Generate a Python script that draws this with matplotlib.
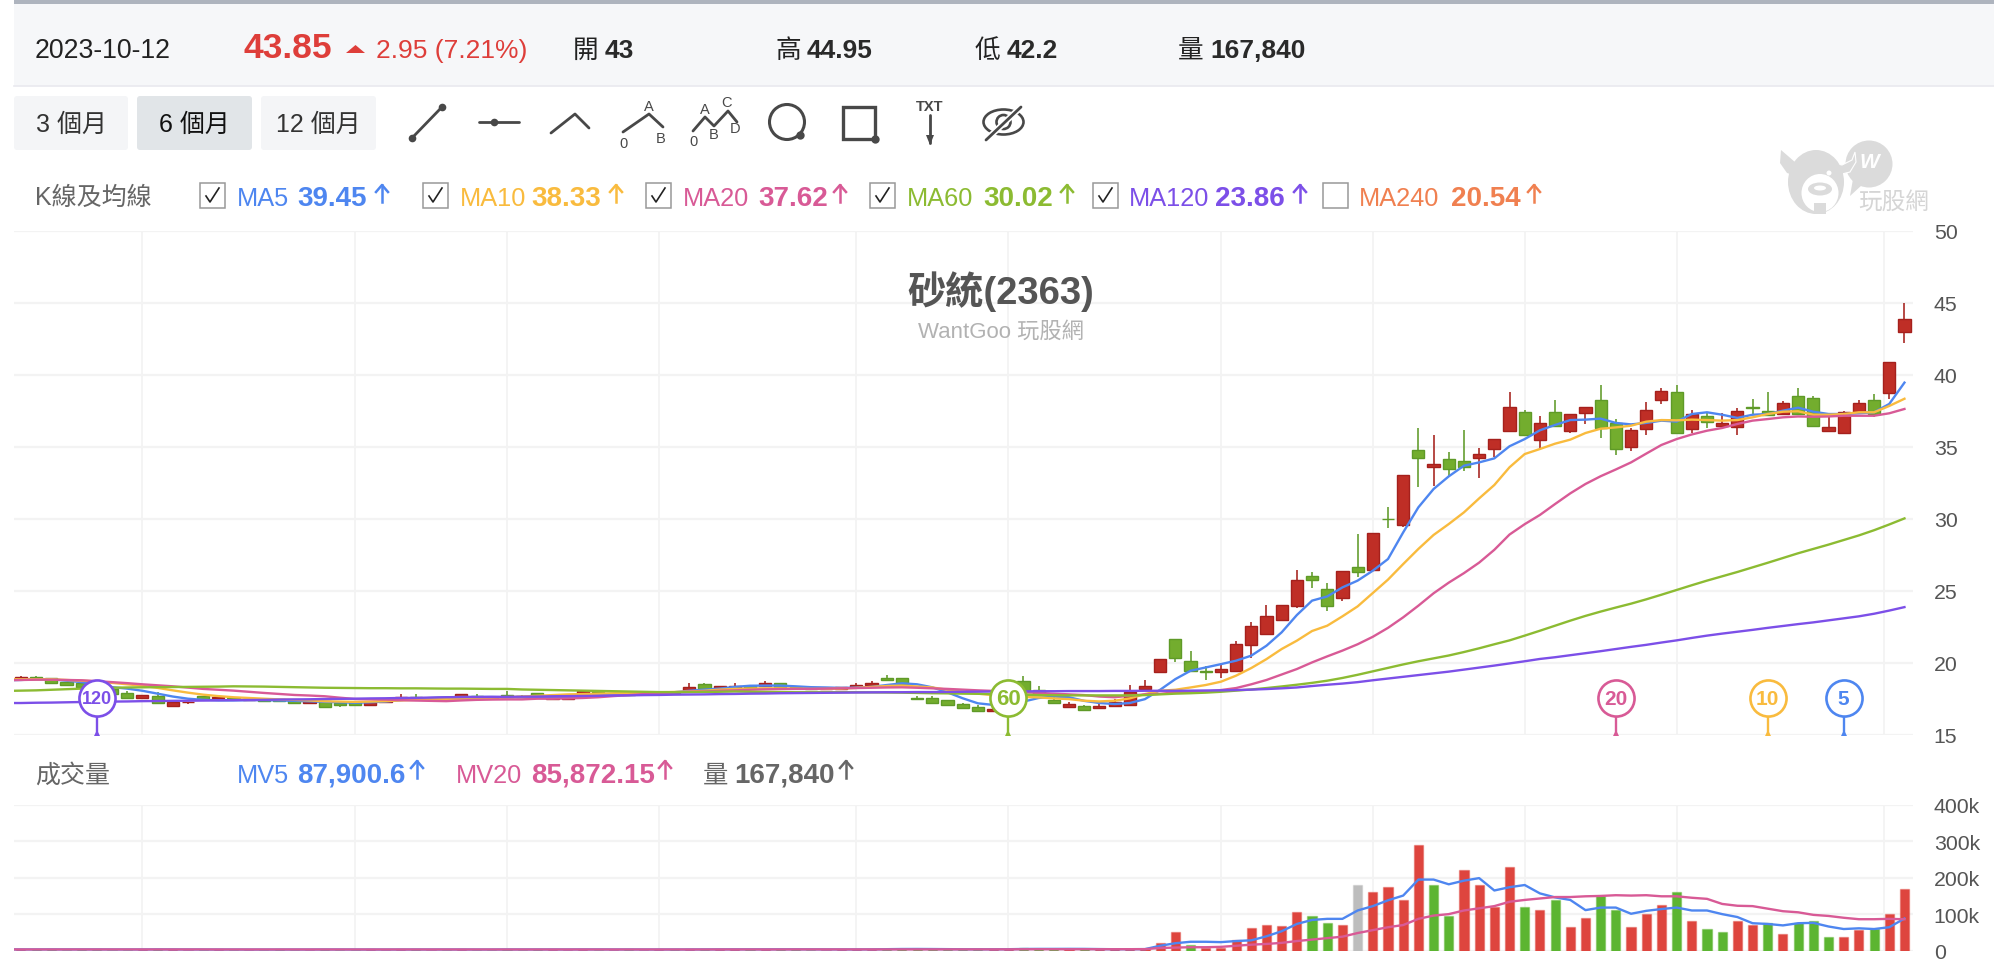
import numpy as np
import matplotlib
matplotlib.use('Agg')
import matplotlib.pyplot as plt
from matplotlib.patches import Rectangle, FancyBboxPatch, Ellipse, Circle, Polygon

plt.rcParams['font.family'] = ['Liberation Sans', 'Noto Sans CJK TC', 'DejaVu Sans']

# daily candles, oldest first
candle_open = [
    18.87, 19.03, 18.92, 18.64, 18.59, 18.45, 18.18, 17.9, 17.57, 17.71,
    16.97, 17.25, 17.67, 17.53, 17.55, 17.42, 17.48, 17.46, 17.44, 17.2,
    17.32, 17.18, 17.25, 17.09, 17.25, 17.48, 17.6, 17.5, 17.58, 17.64,
    17.71, 17.65, 17.76, 17.7, 17.9, 17.5, 17.48, 17.88, 17.99, 17.75,
    17.85, 17.8, 17.9, 17.98, 18.11, 18.55, 18.13, 18.22, 18.41, 18.41,
    18.57, 18.3, 18.25, 18.15, 18.2, 18.32, 18.45, 18.92, 18.92, 17.53,
    17.57, 17.41, 17.16, 16.9, 16.67, 16.8, 18.76, 18.12, 17.4, 16.94,
    17.01, 16.83, 16.96, 17.08, 18.17, 19.33, 21.64, 20.14, 19.42, 19.33,
    19.44, 21.22, 21.97, 22.96, 23.91, 26.04, 25.12, 24.47, 26.67, 26.46,
    30.0, 29.56, 34.79, 33.57, 34.14, 34.0, 34.22, 34.84, 36.09, 37.41,
    35.46, 37.41, 36.09, 37.34, 38.27, 36.67, 34.98, 36.23, 38.22, 38.77,
    36.23, 37.15, 36.46, 36.34, 37.76, 37.5, 37.27, 38.54, 38.38, 36.09,
    35.95, 37.43, 38.27, 38.71, 43.0,
]
candle_high = [
    19.05, 19.08, 18.95, 18.66, 18.62, 18.5, 18.3, 18.04, 17.76, 17.94,
    17.3, 17.3, 17.7, 17.64, 17.6, 17.52, 17.5, 17.5, 17.46, 17.43,
    17.34, 17.2, 17.27, 17.25, 17.35, 17.83, 17.83, 17.6, 17.62, 17.82,
    17.8, 17.7, 18.06, 17.75, 17.92, 17.62, 17.66, 18.13, 18.02, 17.9,
    17.9, 17.95, 18.0, 18.05, 18.57, 18.58, 18.41, 18.57, 18.44, 18.71,
    18.6, 18.38, 18.3, 18.3, 18.32, 18.59, 18.71, 19.17, 18.94, 17.67,
    17.67, 17.43, 17.18, 17.09, 16.82, 17.6, 19.06, 18.4, 17.6, 17.29,
    17.03, 17.2, 17.47, 18.45, 18.79, 20.25, 21.66, 20.78, 19.79, 19.97,
    21.52, 22.8, 24.03, 24.03, 26.44, 26.28, 25.53, 26.39, 28.94, 29.03,
    30.79, 33.03, 36.28, 35.79, 34.66, 36.16, 34.91, 35.53, 38.77, 37.52,
    37.16, 38.27, 37.27, 37.78, 39.28, 36.9, 36.3, 38.08, 39.05, 39.28,
    37.55, 37.34, 37.32, 37.66, 38.31, 38.77, 38.15, 39.05, 38.54, 37.04,
    37.5, 38.27, 38.68, 40.9, 44.95,
]
candle_low = [
    18.85, 18.87, 18.59, 18.45, 18.34, 18.15, 17.83, 17.57, 17.57, 17.2,
    16.97, 17.16, 17.48, 17.53, 17.42, 17.4, 17.32, 17.34, 17.2, 17.2,
    16.95, 16.93, 17.09, 17.09, 17.2, 17.48, 17.5, 17.45, 17.5, 17.64,
    17.64, 17.55, 17.64, 17.6, 17.76, 17.48, 17.45, 17.88, 17.88, 17.7,
    17.72, 17.75, 17.85, 17.9, 18.11, 18.15, 18.13, 18.22, 18.22, 18.41,
    18.29, 18.2, 18.12, 18.1, 18.15, 18.32, 18.45, 18.82, 18.52, 17.46,
    17.2, 17.07, 16.83, 16.67, 16.65, 16.75, 17.95, 17.75, 17.2, 16.94,
    16.73, 16.83, 16.96, 17.08, 18.17, 19.33, 20.07, 19.44, 18.82, 18.93,
    19.44, 20.3, 21.97, 22.96, 23.8, 25.19, 23.56, 24.31, 25.93, 26.46,
    29.33, 29.45, 32.18, 32.29, 32.99, 33.33, 32.8, 34.26, 36.09, 35.84,
    34.89, 36.46, 35.93, 36.58, 35.58, 34.45, 34.68, 35.81, 37.94, 35.95,
    35.95, 36.3, 36.46, 35.81, 37.2, 37.2, 37.27, 37.27, 36.46, 36.09,
    35.95, 37.43, 37.04, 38.31, 42.2,
]
candle_close = [
    19.03, 18.87, 18.59, 18.45, 18.34, 18.15, 17.83, 17.57, 17.76, 17.2,
    17.3, 17.3, 17.48, 17.64, 17.45, 17.5, 17.32, 17.34, 17.2, 17.37,
    16.95, 17.09, 17.09, 17.25, 17.32, 17.6, 17.5, 17.55, 17.52, 17.8,
    17.64, 17.58, 17.64, 17.6, 17.76, 17.6, 17.64, 18.04, 17.88, 17.85,
    17.75, 17.9, 17.95, 17.92, 18.29, 18.15, 18.41, 18.41, 18.22, 18.59,
    18.29, 18.22, 18.15, 18.25, 18.28, 18.45, 18.59, 18.82, 18.52, 17.46,
    17.2, 17.07, 16.83, 16.67, 16.79, 17.5, 17.95, 17.75, 17.2, 17.15,
    16.73, 17.01, 17.24, 17.98, 18.4, 20.25, 20.32, 19.44, 19.37, 19.56,
    21.27, 22.52, 23.27, 24.03, 25.77, 25.72, 23.96, 26.39, 26.32, 29.03,
    29.95, 33.03, 34.22, 33.78, 33.45, 33.57, 34.52, 35.53, 37.78, 35.84,
    36.67, 36.46, 37.27, 37.78, 36.32, 34.84, 36.16, 37.53, 38.89, 35.95,
    37.27, 36.74, 36.65, 37.5, 37.72, 37.2, 38.03, 37.27, 36.46, 36.39,
    37.39, 38.03, 37.27, 40.9, 43.85,
]

# moving averages start one session before the first visible candle
ma5 = [
    18.78,
    18.8, 18.85, 18.85, 18.75, 18.65, 18.5, 18.3, 18.2, 18.05, 17.85,
    17.65, 17.5, 17.42, 17.38, 17.38, 17.4, 17.4, 17.38, 17.35, 17.32,
    17.28, 17.25, 17.22, 17.25, 17.3, 17.4, 17.5, 17.55, 17.6, 17.62,
    17.62, 17.62, 17.6, 17.6, 17.55, 17.55, 17.6, 17.75, 17.75, 17.8,
    17.8, 17.85, 17.9, 17.95, 18.05, 18.13, 18.2, 18.32, 18.4, 18.41,
    18.41, 18.36, 18.3, 18.28, 18.25, 18.27, 18.32, 18.45, 18.57, 18.5,
    18.29, 17.94, 17.53, 17.18, 17.07, 17.0, 17.3, 17.55, 17.65, 17.6,
    17.35, 17.2, 17.13, 17.2, 17.47, 18.12, 18.86, 19.44, 19.67, 19.9,
    20.14, 20.49, 21.18, 22.11, 23.31, 24.31, 24.6, 25.23, 25.7, 26.39,
    27.2, 29.05, 30.79, 32.06, 32.94, 33.68, 33.91, 34.19, 35.03, 35.53,
    36.14, 36.51, 36.85, 36.88, 36.95, 36.65, 36.55, 36.65, 36.81, 36.74,
    37.27, 37.39, 37.22, 37.0, 37.22, 37.27, 37.5, 37.71, 37.43, 37.27,
    37.27, 37.32, 37.39, 37.97, 39.45,
]
ma10 = [
    18.85,
    18.85, 18.85, 18.85, 18.8, 18.75, 18.7, 18.6, 18.5, 18.4, 18.25,
    18.08, 17.92, 17.78, 17.68, 17.6, 17.55, 17.5, 17.45, 17.42, 17.38,
    17.32, 17.3, 17.28, 17.3, 17.33, 17.38, 17.42, 17.45, 17.48, 17.5,
    17.53, 17.56, 17.6, 17.65, 17.7, 17.75, 17.8, 17.82, 17.85, 17.88,
    17.9, 17.92, 17.95, 17.97, 18.0, 18.05, 18.13, 18.18, 18.2, 18.22,
    18.22, 18.2, 18.18, 18.18, 18.2, 18.25, 18.32, 18.38, 18.41, 18.35,
    18.28, 18.12, 17.98, 17.85, 17.75, 17.68, 17.62, 17.59, 17.52, 17.47,
    17.36, 17.31, 17.36, 17.52, 17.82, 18.05, 18.12, 18.28, 18.45, 18.68,
    19.1, 19.63, 20.25, 20.95, 21.53, 22.2, 22.57, 23.22, 23.91, 24.84,
    25.77, 26.85, 27.9, 28.87, 29.63, 30.44, 31.41, 32.34, 33.57, 34.49,
    34.84, 35.21, 35.49, 35.95, 36.25, 36.34, 36.46, 36.74, 36.85, 36.83,
    36.88, 36.85, 36.81, 36.85, 37.04, 37.27, 37.43, 37.46, 37.22, 37.22,
    37.27, 37.39, 37.39, 37.83, 38.33,
]
ma20 = [
    18.78,
    18.8, 18.82, 18.82, 18.8, 18.78, 18.72, 18.65, 18.58, 18.5, 18.43,
    18.36, 18.27, 18.18, 18.12, 18.06, 17.98, 17.9, 17.83, 17.76, 17.72,
    17.67, 17.57, 17.48, 17.46, 17.44, 17.4, 17.37, 17.35, 17.33, 17.38,
    17.42, 17.44, 17.45, 17.45, 17.5, 17.5, 17.52, 17.55, 17.6, 17.68,
    17.75, 17.82, 17.88, 17.93, 17.98, 18.0, 18.05, 18.08, 18.12, 18.15,
    18.17, 18.18, 18.18, 18.2, 18.22, 18.24, 18.26, 18.28, 18.29, 18.26,
    18.22, 18.18, 18.13, 18.08, 18.04, 18.0, 17.95, 17.9, 17.85, 17.8,
    17.75, 17.65, 17.6, 17.71, 17.8, 17.84, 17.94, 17.98, 18.0, 18.1,
    18.24, 18.5, 18.8, 19.18, 19.56, 20.02, 20.44, 20.84, 21.28, 21.8,
    22.42, 23.15, 23.96, 24.82, 25.56, 26.22, 26.95, 27.84, 28.9, 29.62,
    30.26, 31.02, 31.76, 32.41, 32.95, 33.42, 33.91, 34.52, 35.12, 35.53,
    35.85, 36.11, 36.3, 36.58, 36.81, 36.92, 37.04, 37.1, 37.08, 37.1,
    37.15, 37.15, 37.15, 37.32, 37.62,
]
ma60 = [
    18.04,
    18.06, 18.08, 18.12, 18.16, 18.2, 18.24, 18.26, 18.28, 18.29, 18.3,
    18.31, 18.32, 18.33, 18.34, 18.36, 18.35, 18.34, 18.32, 18.3, 18.28,
    18.26, 18.25, 18.24, 18.23, 18.23, 18.22, 18.22, 18.21, 18.2, 18.2,
    18.19, 18.18, 18.18, 18.14, 18.12, 18.1, 18.08, 18.06, 18.04, 18.02,
    18.0, 17.98, 17.96, 17.95, 17.95, 17.97, 17.98, 18.0, 17.98, 17.97,
    17.96, 17.95, 17.95, 17.95, 17.95, 17.95, 17.94, 17.93, 17.92, 17.9,
    17.88, 17.87, 17.85, 17.84, 17.82, 17.8, 17.78, 17.75, 17.74, 17.73,
    17.73, 17.73, 17.73, 17.73, 17.75, 17.8, 17.85, 17.88, 17.92, 17.98,
    18.06, 18.14, 18.24, 18.35, 18.47, 18.6, 18.75, 18.94, 19.16, 19.4,
    19.64, 19.88, 20.1, 20.3, 20.5, 20.74, 21.0, 21.28, 21.55, 21.88,
    22.22, 22.57, 22.92, 23.25, 23.55, 23.83, 24.1, 24.4, 24.72, 25.05,
    25.38, 25.7, 26.0, 26.3, 26.62, 26.94, 27.27, 27.6, 27.9, 28.2,
    28.52, 28.84, 29.2, 29.6, 30.02,
]
ma120 = [
    17.2,
    17.2, 17.22, 17.23, 17.25, 17.27, 17.28, 17.3, 17.31, 17.33, 17.34,
    17.35, 17.36, 17.37, 17.39, 17.4, 17.41, 17.42, 17.44, 17.45, 17.46,
    17.48, 17.49, 17.5, 17.52, 17.53, 17.55, 17.56, 17.58, 17.6, 17.61,
    17.62, 17.63, 17.63, 17.64, 17.65, 17.67, 17.68, 17.69, 17.7, 17.72,
    17.73, 17.75, 17.76, 17.78, 17.79, 17.8, 17.82, 17.83, 17.85, 17.86,
    17.88, 17.89, 17.9, 17.91, 17.92, 17.93, 17.94, 17.95, 17.95, 17.96,
    17.96, 17.97, 17.98, 17.99, 18.0, 18.01, 18.01, 18.02, 18.02, 18.03,
    18.03, 18.03, 18.04, 18.04, 18.05, 18.05, 18.05, 18.06, 18.07, 18.08,
    18.1, 18.13, 18.17, 18.22, 18.28, 18.38, 18.47, 18.55, 18.65, 18.78,
    18.9, 19.02, 19.14, 19.26, 19.38, 19.52, 19.66, 19.8, 19.95, 20.1,
    20.26, 20.38, 20.52, 20.66, 20.8, 20.95, 21.1, 21.24, 21.4, 21.55,
    21.72, 21.88, 22.02, 22.15, 22.28, 22.42, 22.55, 22.68, 22.8, 22.94,
    23.08, 23.22, 23.4, 23.62, 23.86,
]

volume = [
    3100, 2800, 3400, 2600, 2900, 3300, 2500, 2700, 3000, 3600,
    2800, 2400, 2600, 2900, 2500, 2300, 2700, 3100, 2600, 2400,
    3200, 2700, 2500, 2800, 2600, 3000, 3300, 2500, 2400, 2900,
    2600, 2700, 3500, 2600, 3000, 2800, 2500, 3400, 2700, 2500,
    2900, 2600, 2800, 3100, 3600, 3300, 2900, 3200, 2800, 3400,
    3600, 2900, 2700, 2500, 2800, 3200, 3800, 4600, 4100, 2900,
    3100, 3300, 3000, 3400, 3100, 4800, 7200, 5200, 3300, 2900,
    3100, 2800, 3200, 4500, 5000, 20000, 50000, 16000, 8000, 8000,
    30000, 61000, 71000, 66000, 105000, 95000, 76000, 71000, 180000, 160000,
    175000, 140000, 289000, 180000, 95000, 220000, 180000, 120000, 229000, 120000,
    110000, 140000, 65000, 90000, 149000, 110000, 65000, 100000, 125000, 160000,
    80000, 60000, 50000, 80000, 71000, 76000, 45000, 76000, 80000, 36000,
    36000, 55000, 60000, 100000, 167840,
]
# r: close up, g: close down, n: unchanged
volume_dir = ('rgggggggrg' 'rrgrgrgggr' 'gggrrrgrgr' 'gggggrrrgr' 'grrgrgrrgr'
              'gggrrrrggg' 'ggggrrgggr' 'grrrrrrgrr' 'rrrrrggrnr' 'rrrggrrrrg'
              'rgrrggrrrg' 'rggrrgrggg' 'rrgrr')
mv5 = [
    3000,
    3000, 3000, 3100, 3000, 3000, 3000, 2900, 2900, 2900, 3100,
    3000, 2900, 2800, 2700, 2700, 2600, 2600, 2600, 2700, 2700,
    2800, 2800, 2700, 2700, 2700, 2700, 2800, 2800, 2800, 2800,
    2700, 2700, 2900, 2900, 2900, 2900, 2900, 3000, 3000, 2900,
    2900, 2800, 2800, 2800, 2900, 3000, 3100, 3200, 3200, 3200,
    3300, 3300, 3200, 3100, 3000, 3000, 3100, 3600, 4100, 4200,
    4000, 3700, 3400, 3300, 3300, 3500, 4200, 4400, 4400, 4500,
    4400, 3900, 3500, 3600, 3800, 13000, 20000, 24000, 24000, 23000,
    26000, 28000, 39000, 53000, 73000, 84000, 87000, 87000, 110000, 122000,
    138000, 151000, 195000, 195000, 182000, 192000, 199000, 165000, 174000, 180000,
    157000, 146000, 139000, 111000, 118000, 118000, 101000, 109000, 114000, 118000,
    110000, 110000, 100000, 92000, 75000, 73000, 69000, 75000, 76000, 66000,
    59000, 61000, 59000, 64000, 87900,
]
mv20 = [
    2900,
    2900, 2900, 2900, 2900, 2900, 2900, 2900, 2900, 2900, 2900,
    2900, 2900, 2900, 2800, 2800, 2800, 2800, 2800, 2800, 2800,
    2800, 2800, 2800, 2800, 2800, 2800, 2800, 2800, 2800, 2800,
    2800, 2800, 2800, 2800, 2800, 2800, 2800, 2800, 2800, 2800,
    2800, 2800, 2800, 2800, 2800, 2800, 2900, 2900, 2900, 2900,
    2900, 3000, 3000, 3000, 3000, 3000, 3000, 3000, 3100, 3100,
    3100, 3100, 3100, 3100, 3100, 3200, 3400, 3500, 3500, 3500,
    3500, 3500, 3500, 3600, 3700, 7000, 8000, 9000, 9000, 10000,
    13000, 16000, 18000, 21000, 26000, 30000, 34000, 38000, 48000, 56000,
    64000, 70000, 87000, 96000, 100000, 110000, 116000, 122000, 134000, 139000,
    143000, 147000, 147000, 149000, 150000, 152000, 151000, 152000, 149000, 149000,
    145000, 142000, 128000, 123000, 122000, 115000, 108000, 105000, 98000, 95000,
    90000, 86000, 86000, 87000, 85872,
]

price_ticks = [15, 20, 25, 30, 35, 40, 45, 50]
volume_ticks = [0, 100000, 200000, 300000, 400000]
volume_tick_labels = ['0', '100k', '200k', '300k', '400k']
month_grid = [8, 22, 32, 42, 55, 65, 79, 89, 99, 109, 122.65]

# value flags on the bottom of the price panel: period, session, colour, label size
flag_period = ['120', '60', '20', '10', '5']
flag_session = [5, 65, 105, 115, 120]

COL_MA5 = '#4E86F0'
COL_MA10 = '#F9BB3E'
COL_MA20 = '#D85A96'
COL_MA60 = '#8CBB32'
COL_MA120 = '#7C4FE8'
COL_MA240 = '#F08050'
COL_UP = '#DE3E3A'
flag_colors = [COL_MA120, COL_MA60, COL_MA20, COL_MA10, COL_MA5]
flag_sizes = [13, 16, 15, 15, 15]

W, H = 1994, 962
fig = plt.figure(figsize=(W / 100, H / 100), dpi=100, facecolor='white')


def px_axes(x0, y0, x1, y1):
    return fig.add_axes([x0 / W, 1 - y1 / H, (x1 - x0) / W, (y1 - y0) / H])


# toolbar and legends live in one pixel-space layer
ui = fig.add_axes([0, 0, 1, 1], zorder=0)
ui.set_xlim(0, W)
ui.set_ylim(H, 0)
ui.axis('off')

ui.add_patch(Rectangle((14, 0), W - 14, 5, fc='#AEB4BE', lw=0))
ui.add_patch(Rectangle((14, 5), W - 14, 82, fc='#F6F7F9', lw=0))
ui.plot([14, W], [87, 87], color='#E9E9EF', lw=1.2)


def label(x, y, s, size=19, color='#333333', weight='normal', ha='left'):
    ui.text(x, y + 2, s, fontsize=size, color=color, fontweight=weight, ha=ha, va='center')


label(35, 49, '2023-10-12', 19.2, '#222222')
label(243, 47, '43.85', 25.5, COL_UP, 'bold')
ui.add_patch(Polygon([[346, 54], [365, 54], [355.5, 46]], fc=COL_UP, lw=0))
label(376, 49, '2.95 (7.21%)', 19, COL_UP)
for x_lab, x_val, head, val in [(573, 605, '開', '43'), (775, 807, '高', '44.95'),
                                (975, 1007, '低', '42.2'), (1178, 1210, '量', '167,840')]:
    label(x_lab, 49, head, 18.5, '#222222')
    label(x_val, 49, val, 19, '#2A2A2A', 'bold')

# range buttons
for x0, x1, txt, bg, fg in [(14, 128, '3 個月', '#F4F5F7', '#333333'),
                            (137, 252, '6 個月', '#E1E5E8', '#111111'),
                            (261, 376, '12 個月', '#F4F5F7', '#333333')]:
    ui.add_patch(FancyBboxPatch((x0 + 3, 100), x1 - x0 - 6, 48, boxstyle='round,pad=3',
                                fc=bg, lw=0))
    label((x0 + x1) / 2, 123, txt, 18, fg, ha='center')

# drawing tools
ink = '#484848'
tool_lw = 2.0


def tool(xs, ys, dots=()):
    ui.plot(xs, ys, color=ink, lw=tool_lw, solid_capstyle='round')
    for dx, dy in dots:
        ui.plot(dx, dy, 'o', color=ink, ms=5.5, mew=0)


tool([412, 442], [139, 108], [(412, 139), (442, 108)])
tool([479, 519], [123, 123], [(494, 123)])
tool([551, 575, 589], [134, 115, 129])
tool([623, 649, 663], [133, 115, 128])
tool([693, 705, 714, 728, 737], [132, 118, 127, 112, 123])
for x, y, s in [(649, 107, 'A'), (623, 144, '0'), (661, 139, 'B'), (705, 110, 'A'),
                (726, 103, 'C'), (693, 142, '0'), (714, 135, 'B'), (735, 129, 'D')]:
    ui.text(x, y, s, fontsize=10.5, color=ink, ha='center', va='center')
ui.add_patch(Circle((787, 123), 17.5, fc='none', ec=ink, lw=2.2))
ui.plot(800, 136, 'o', color=ink, ms=6, mew=0)
ui.add_patch(Rectangle((843, 108), 32, 32, fc='none', ec=ink, lw=2.4))
ui.plot(875, 140, 'o', color=ink, ms=6, mew=0)
ui.text(930, 107, 'TXT', fontsize=10.5, color=ink, fontweight='bold', ha='center', va='center')
tool([930, 930], [116, 144])
ui.add_patch(Polygon([[926, 136], [934, 136], [930, 146]], fc=ink, lw=0))
# hidden-lines eye
ui.add_patch(Ellipse((1003.5, 123), 40, 25, fc='none', ec=ink, lw=1.9))
ui.add_patch(Circle((1003.5, 123), 7, fc='none', ec=ink, lw=1.9))
ui.plot([986, 1021], [141, 108], color='white', lw=4.5, zorder=3)
ui.plot([986, 1021], [141, 108], color=ink, lw=2.0, zorder=4, solid_capstyle='round')

# watermark logo
wm = '#DBDBDB'
ui.add_patch(Circle((1869, 165), 23.5, fc=wm, lw=0, zorder=1))
ui.add_patch(Polygon([[1853, 180], [1862, 186], [1850, 197]], fc=wm, lw=0, zorder=1))
ui.text(1869, 163, 'W', fontsize=15, color='white', fontweight='bold', style='italic',
        ha='center', va='center', zorder=2)
ui.add_patch(Polygon([[1781, 151], [1788, 157], [1796, 164], [1806, 163], [1800, 178],
                      [1787, 174], [1780, 164]], fc=wm, lw=0, zorder=2))
ui.add_patch(Polygon([[1855, 153], [1852, 161], [1842, 166], [1832, 164], [1838, 176],
                      [1850, 173], [1856, 163]], fc=wm, ec='white', lw=0.8, zorder=2))
ui.add_patch(Ellipse((1816, 183), 56, 64, fc=wm, lw=0, zorder=3))
ui.add_patch(Ellipse((1820, 194), 37, 38, fc='white', lw=0, zorder=4))
ui.add_patch(Ellipse((1820, 190), 24, 13, fc=wm, lw=0, zorder=5))
ui.add_patch(Ellipse((1820, 189), 12, 5, fc='white', lw=0, zorder=6))
ui.add_patch(Rectangle((1814, 204), 12, 11, fc=wm, lw=0, zorder=5))
ui.add_patch(Circle((1829, 174), 2.5, fc='white', lw=0, zorder=5))
ui.text(1893.5, 203, '玩股網', fontsize=17, color='#D5D5D5', ha='center', va='center', zorder=2)


def up_arrow(x, y0, y1, color):
    ui.plot([x, x], [y0, y1], color=color, lw=1.8)
    ui.plot([x - 6, x, x + 6], [y0 + 7, y0, y0 + 7], color=color, lw=1.8)


# MA legend row
label(35, 196, 'K線及均線', 18, '#666666')
ma_legend = [
    (200, 237, 297, 382, 'MA5', '39.45', COL_MA5, True),
    (423, 460, 531, 616, 'MA10', '38.33', COL_MA10, True),
    (646, 683, 758, 840, 'MA20', '37.62', COL_MA20, True),
    (870, 907, 983, 1067, 'MA60', '30.02', COL_MA60, True),
    (1093, 1128.5, 1215, 1300, 'MA120', '23.86', COL_MA120, True),
    (1323, 1359, 1451, 1534, 'MA240', '20.54', COL_MA240, False),
]
for box_x, name_x, val_x, arr_x, name, val, col, checked in ma_legend:
    ui.add_patch(Rectangle((box_x, 184), 25, 25, fc='white', ec='#999999', lw=1.1))
    if checked:
        ui.plot([box_x + 6, box_x + 10, box_x + 19], [197, 203, 189], color='#222222', lw=1.2)
    label(name_x, 197, name, 18.3, col)
    label(val_x, 197, val, 20, col, 'bold')
    up_arrow(arr_x, 186, 203, col)

# volume legend row
label(35, 774, '成交量', 18, '#666666')
for name_x, val_x, arr_x, name, val, col in [
        (237, 297, 417, 'MV5', '87,900.6', COL_MA5),
        (456, 531, 665, 'MV20', '85,872.15', COL_MA20),
        (703, 734, 846, '量', '167,840', '#666666')]:
    label(name_x, 774, name, 18.3, col)
    label(val_x, 774, val, 20, col, 'bold')
    up_arrow(arr_x, 762, 779, col)

# session index <-> pixel: candles sit 15.19 px apart, first one at x = 20.9
x_left = (14 - 20.9) / 15.19
x_right = (1913 - 20.9) / 15.19
sessions = np.arange(len(candle_open))
ma_x = np.arange(-1, len(candle_open))

# price panel
ax = px_axes(14, 231.7, 1913, 735.7)
ax.patch.set_alpha(0)
ax.set_xlim(x_left, x_right)
ax.set_ylim(15, 50)

opens = np.array(candle_open)
closes = np.array(candle_close)
rising = closes >= opens
for mask, body, edge in [(rising, '#BF2E26', '#A5201C'), (~rising, '#73AD2E', '#5F9A28')]:
    ax.vlines(sessions[mask], np.array(candle_low)[mask], np.array(candle_high)[mask],
              color=edge, lw=1.15, zorder=3)
    ax.bar(sessions[mask], np.abs(closes - opens)[mask], bottom=np.minimum(opens, closes)[mask],
           width=0.8, color=body, edgecolor=edge, lw=1.0, zorder=4)

for series, col in [(ma5, COL_MA5), (ma10, COL_MA10), (ma20, COL_MA20),
                    (ma60, COL_MA60), (ma120, COL_MA120)]:
    ax.plot(ma_x, series, color=col, lw=1.7, zorder=5, solid_joinstyle='round')

for period, session, col, size in zip(flag_period, flag_session, flag_colors, flag_sizes):
    ax.vlines(session, 15.05, 17.5, color=col, lw=1.7, zorder=6)
    ax.plot(session, 15.12, '^', color=col, ms=5, mew=0, zorder=6)
    ax.plot(session, 17.53, 'o', mfc='white', mec=col, mew=1.9, ms=26, zorder=7)
    ax.text(session, 17.5, period, color=col, fontsize=size, fontweight='bold',
            ha='center', va='center', zorder=8)

# stock name, placed in page pixels but kept above the panel grid
ax.text(1001, 292, '砂統(2363)', transform=ui.transData, fontsize=27.5, fontweight='bold',
        color='#555555', ha='center', va='center', zorder=2)
ax.text(1001, 332, 'WantGoo 玩股網', transform=ui.transData, fontsize=16,
        color='#B2B2B2', ha='center', va='center', zorder=2)

# volume panel
vol = px_axes(14, 806, 1913, 951.5)
vol.patch.set_alpha(0)
vol.set_xlim(x_left, x_right)
vol.set_ylim(0, 400000)
bar_colors = {'r': '#DE453E', 'g': '#5CB531', 'n': '#BDBDBD'}
vol.bar(sessions, volume, width=0.6, color=[bar_colors[d] for d in volume_dir],
        edgecolor=[bar_colors[d] + '66' for d in volume_dir], lw=1.0, zorder=3)
vol.plot(ma_x, mv5, color=COL_MA5, lw=1.7, zorder=5)
vol.plot(ma_x, mv20, color=COL_MA20, lw=1.7, zorder=5)

for panel, ticks, labels in [(ax, price_ticks, [str(t) for t in price_ticks]),
                             (vol, volume_ticks, volume_tick_labels)]:
    panel.yaxis.tick_right()
    panel.set_yticks(ticks, labels)
    panel.set_xticks(month_grid, [''] * len(month_grid))
    panel.tick_params(axis='both', length=0)
    panel.tick_params(axis='y', pad=15, labelsize=15.3, labelcolor='#555555')
    panel.grid(axis='y', color='#F3F3F3', lw=1.6, zorder=0)
    panel.grid(axis='x', color='#F1F1F1', lw=1.1, zorder=0)
    panel.set_axisbelow(True)
    for spine in panel.spines.values():
        spine.set_visible(False)

fig.savefig('out.png', dpi=100, facecolor='white')
